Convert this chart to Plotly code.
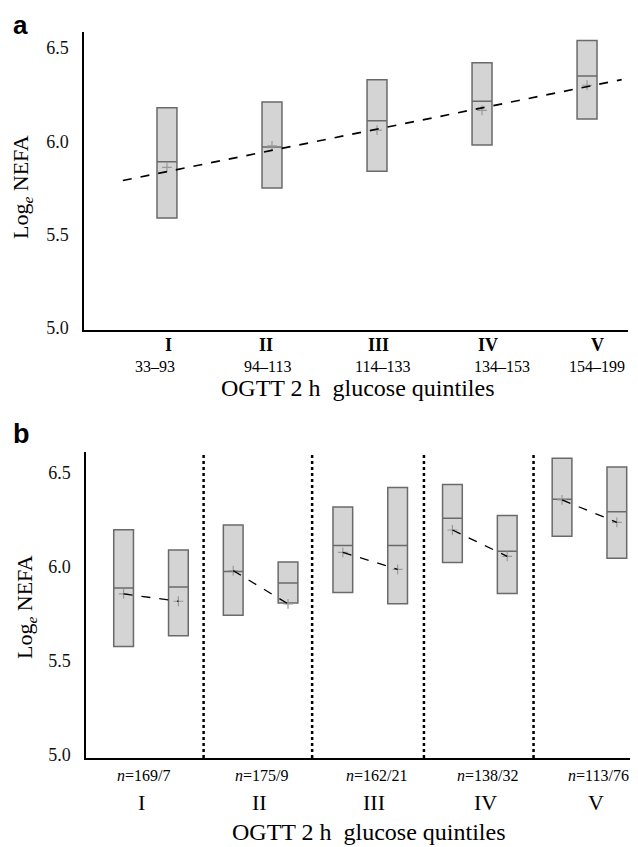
import plotly.graph_objects as go

# ---------------- data ----------------
quintiles = ["I", "II", "III", "IV", "V"]
glucose_ranges = ["33–93", "94–113", "114–133", "134–153", "154–199"]

# panel a: one box per quintile
a_q3 = [6.18, 6.21, 6.33, 6.42, 6.54]
a_median = [5.89, 5.97, 6.11, 6.215, 6.35]
a_q1 = [5.59, 5.75, 5.84, 5.98, 6.12]
a_mean = [5.86, 5.975, 6.06, 6.165, 6.30]
trend_x = [0.58, 5.33]
trend_y = [5.79, 6.33]

# panel b: two subgroups per quintile
b_n = ["169/7", "175/9", "162/21", "138/32", "113/76"]
b1_q3 = [6.195, 6.22, 6.315, 6.435, 6.575]
b1_median = [5.885, 5.972, 6.11, 6.255, 6.356]
b1_q1 = [5.573, 5.739, 5.86, 6.02, 6.16]
b1_mean = [5.853, 5.977, 6.074, 6.193, 6.353]
b2_q3 = [6.087, 6.023, 6.419, 6.27, 6.528]
b2_median = [5.89, 5.911, 6.11, 6.08, 6.29]
b2_q1 = [5.631, 5.805, 5.80, 5.855, 6.043]
b2_mean = [5.814, 5.80, 5.984, 6.053, 6.234]
separators = [1.48, 2.47, 3.49, 4.49]

# ---------------- styling ----------------
PAGE_OFF = 8                      # default body margin of the html page
W, H = 638 - PAGE_OFF, 847 - PAGE_OFF
SERIF = "Liberation Serif, Times New Roman, serif"
SANS = "Liberation Sans, Arial, sans-serif"
BOX_FILL = "#d4d4d4"
BOX_LINE = "#6a6a6a"
MEAN_COL = "#999999"

def px(p):
    return (p - PAGE_OFF) / W

def py(p):
    return 1 - (p - PAGE_OFF) / H

xpos = [i + 1 for i in range(len(quintiles))]
off = 0.25
x_b1 = [x - off for x in xpos]
x_b2 = [x + off for x in xpos]

fig = go.Figure()

def add_box(x, q1, med, q3, xa, ya, width):
    fig.add_trace(go.Box(
        x=x, q1=q1, median=med, q3=q3, lowerfence=q1, upperfence=q3,
        width=width, whiskerwidth=0, boxpoints=False,
        fillcolor=BOX_FILL, line=dict(color=BOX_LINE, width=1.5),
        xaxis=xa, yaxis=ya, showlegend=False, hoverinfo="skip"))

def add_mean(x, m, xa, ya):
    fig.add_trace(go.Scatter(
        x=x, y=m, mode="markers",
        marker=dict(symbol="cross-thin", size=7, line=dict(color=MEAN_COL, width=1.2)),
        xaxis=xa, yaxis=ya, showlegend=False, hoverinfo="skip"))

# panel a
add_box(xpos, a_q1, a_median, a_q3, "x", "y", 0.19)
add_mean(xpos, a_mean, "x", "y")
fig.add_trace(go.Scatter(x=trend_x, y=trend_y, mode="lines",
                         line=dict(color="black", width=1.7, dash="dash"),
                         xaxis="x", yaxis="y", showlegend=False, hoverinfo="skip"))

# panel b
add_box(x_b1, b1_q1, b1_median, b1_q3, "x2", "y2", 0.18)
add_box(x_b2, b2_q1, b2_median, b2_q3, "x2", "y2", 0.18)
add_mean(x_b1, b1_mean, "x2", "y2")
add_mean(x_b2, b2_mean, "x2", "y2")
lx, ly = [], []
for i in range(len(xpos)):
    lx += [x_b1[i], x_b2[i], None]
    ly += [b1_mean[i], b2_mean[i], None]
fig.add_trace(go.Scatter(x=lx, y=ly, mode="lines", connectgaps=False,
                         line=dict(color="black", width=1.3, dash="dash"),
                         xaxis="x2", yaxis="y2", showlegend=False, hoverinfo="skip"))

for s in separators:
    fig.add_shape(type="line", xref="x2", yref="y2 domain", x0=s, x1=s, y0=0, y1=0.99,
                  line=dict(color="black", width=2.5, dash="dot"))

ticks = [5.0, 5.5, 6.0, 6.5]
common_y = dict(tickvals=ticks, ticktext=[f"{t:.1f}" for t in ticks],
                tickfont=dict(family=SERIF, size=18, color="#111"),
                showline=True, linecolor="black", linewidth=1.5, ticks="",
                showgrid=False, zeroline=False, fixedrange=True, automargin=False,
                ticklabelstandoff=10)
common_x = dict(showline=True, linecolor="black", linewidth=1.5, ticks="",
                showticklabels=False, showgrid=False, zeroline=False,
                fixedrange=True, automargin=False)

fig.update_layout(
    width=W, height=H, margin=dict(l=0, r=0, t=0, b=0),
    paper_bgcolor="white", plot_bgcolor="white", showlegend=False,
    xaxis=dict(domain=[px(84), px(628)], range=[0.21, 5.39], anchor="y", **common_x),
    yaxis=dict(domain=[py(330), py(32)], range=[4.99, 6.585], anchor="x", **common_y),
    xaxis2=dict(domain=[px(86), px(630)], range=[0.407, 5.37], anchor="y2", **common_x),
    yaxis2=dict(domain=[py(758), py(452)], range=[4.98, 6.608], anchor="x2", **common_y),
)

ann = []
# panel letters
ann.append(dict(text="<b>a</b>", x=px(11), y=py(25), xref="paper", yref="paper",
                xanchor="left", yanchor="middle", showarrow=False,
                font=dict(family=SANS, size=26, color="black")))
ann.append(dict(text="<b>b</b>", x=px(11), y=py(434), xref="paper", yref="paper",
                xanchor="left", yanchor="middle", showarrow=False,
                font=dict(family=SANS, size=27, color="black")))
# y titles
ytitle = "Log<sub><i>e</i></sub> NEFA"
ann.append(dict(text=ytitle, x=px(22), y=py(187), xref="paper", yref="paper",
                textangle=-90, xanchor="center", yanchor="middle", showarrow=False,
                font=dict(family=SERIF, size=22, color="black")))
ann.append(dict(text=ytitle, x=px(26), y=py(607), xref="paper", yref="paper",
                textangle=-90, xanchor="center", yanchor="middle", showarrow=False,
                font=dict(family=SERIF, size=22, color="black")))

# panel a category labels
a_label_shift = [2, -6, 1, 6, 10]
a_range_shift = [-12, -4, 5, 20, 10]
for i, q in enumerate(quintiles):
    ann.append(dict(text=f"<b>{q}</b>", x=xpos[i], y=py(345), xref="x", yref="paper",
                    xshift=a_label_shift[i], xanchor="center", yanchor="middle",
                    showarrow=False, font=dict(family=SERIF, size=18, color="black")))
    ann.append(dict(text=glucose_ranges[i], x=xpos[i], y=py(366), xref="x", yref="paper",
                    xshift=a_range_shift[i], xanchor="center", yanchor="middle",
                    showarrow=False, font=dict(family=SERIF, size=16, color="black")))
ann.append(dict(text="OGTT 2 h  glucose quintiles", x=px(358), y=py(388),
                xref="paper", yref="paper", xanchor="center", yanchor="middle",
                showarrow=False, font=dict(family=SERIF, size=24, color="black")))

# panel b category labels
b_shift = [-8, 1, 6, 8, 9]
for i, q in enumerate(quintiles):
    ann.append(dict(text=f"<i>n</i>={b_n[i]}", x=xpos[i], y=py(775), xref="x2", yref="paper",
                    xshift=b_shift[i], xanchor="center", yanchor="middle",
                    showarrow=False, font=dict(family=SERIF, size=16, color="black")))
    ann.append(dict(text=q, x=xpos[i], y=py(802), xref="x2", yref="paper",
                    xshift=b_shift[i] - 2, xanchor="center", yanchor="middle",
                    showarrow=False, font=dict(family=SERIF, size=22, color="black")))
ann.append(dict(text="OGTT 2 h  glucose quintiles", x=px(369), y=py(832),
                xref="paper", yref="paper", xanchor="center", yanchor="middle",
                showarrow=False, font=dict(family=SERIF, size=24, color="black")))

fig.update_layout(annotations=ann)
fig.write_html("out.html")
